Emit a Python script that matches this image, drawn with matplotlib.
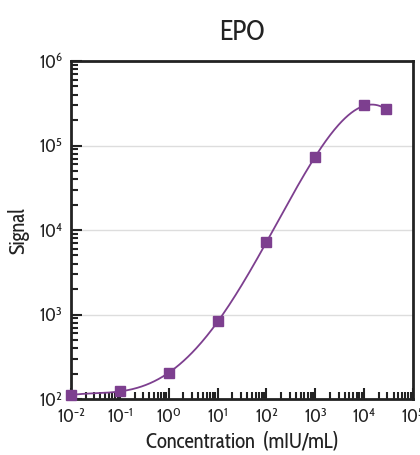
import numpy as np
import matplotlib.pyplot as plt
from matplotlib.ticker import LogLocator, NullFormatter, FixedLocator

plt.rcParams['font.family'] = ['Cabin Condensed', 'DejaVu Sans']
plt.rcParams['mathtext.fontset'] = 'custom'
plt.rcParams['mathtext.rm'] = 'Cabin Condensed'
plt.rcParams['mathtext.default'] = 'regular'

# EPO standard curve
conc = [0.01, 0.1, 1, 10, 100, 1000, 10000, 28000]
signal = [111, 124, 201, 830, 7200, 73000, 299000, 268000]
xticks = [1e-2, 1e-1, 1e0, 1e1, 1e2, 1e3, 1e4, 1e5]
xlabels = [r'$10^{-2}$', r'$10^{-1}$', r'$10^{0}$', r'$10^{1}$',
           r'$10^{2}$', r'$10^{3}$', r'$10^{4}$', r'$10^{5}$']
yticks = [1e2, 1e3, 1e4, 1e5, 1e6]
ylabels = [r'$10^{2}$', r'$10^{3}$', r'$10^{4}$', r'$10^{5}$', r'$10^{6}$']

purple = '#7d3f8f'

fig = plt.figure(figsize=(4.2, 4.55), dpi=100)
ax = fig.add_axes([71/420, 1-399/455, 342/420, 338/455])

# smooth fitted curve in log-log space
lx = np.log10(conc)
ly = np.log10(signal)
coef = np.polyfit(lx, ly, 5)
xx = np.linspace(lx[0], lx[-1], 300)
ax.plot(10**xx, 10**np.polyval(coef, xx), color=purple, lw=1.3, zorder=3)
ax.plot(conc, signal, 's', color=purple, ms=6.5, zorder=4, clip_on=False)

ax.set_xscale('log')
ax.set_yscale('log')
ax.set_xlim(1e-2, 1e5)
ax.set_ylim(1e2, 1e6)
ax.xaxis.set_major_locator(FixedLocator(xticks))
ax.set_xticklabels(xlabels)
ax.yaxis.set_major_locator(FixedLocator(yticks))
ax.set_yticklabels(ylabels)
ax.xaxis.set_minor_locator(LogLocator(base=10, subs=np.arange(2, 10), numticks=20))
ax.yaxis.set_minor_locator(LogLocator(base=10, subs=np.arange(2, 10), numticks=20))
ax.xaxis.set_minor_formatter(NullFormatter())
ax.yaxis.set_minor_formatter(NullFormatter())
ax.tick_params(which='both', direction='in', color='#222222', width=1.5,
               labelsize=13, colors='#222222')
ax.tick_params(which='major', length=8, pad=6)
ax.tick_params(which='minor', length=5)
for s in ax.spines.values():
    s.set_linewidth(2)
    s.set_color('#222222')
ax.grid(True, axis='y', which='major', color='#dddddd', lw=1)

ax.set_title('EPO', fontsize=20, pad=15, color='#222222')
ax.set_xlabel('Concentration  (mIU/mL)', fontsize=15, color='#222222', labelpad=3)
ax.set_ylabel('Signal', fontsize=15, color='#222222', labelpad=7)

fig.savefig('out.png', dpi=100)
